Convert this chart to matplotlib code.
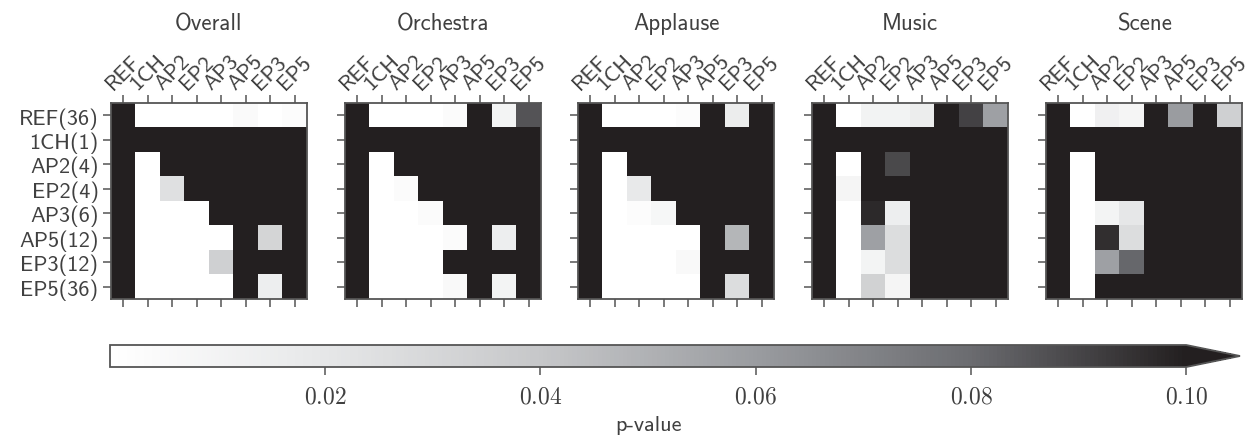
import numpy as np
import matplotlib
matplotlib.use("Agg")
import matplotlib.pyplot as plt
from matplotlib.colors import LinearSegmentedColormap

plt.rcParams['font.family'] = ['cmss10', 'DejaVu Sans']
plt.rcParams['mathtext.fontset'] = 'cm'
plt.rcParams['axes.unicode_minus'] = False

txt_col = '#404040'
edge_col = '#555555'

conds = ['REF', '1CH', 'AP2', 'EP2', 'AP3', 'AP5', 'EP3', 'EP5']
counts = [36, 1, 4, 4, 6, 12, 12, 36]
titles = ['Overall', 'Orchestra', 'Applause', 'Music', 'Scene']

# p-values (1.0 = not significant)
overall = [
    [1, 0, 0, 0, 0, 0.004, 0, 0.002],
    [1, 1, 1, 1, 1, 1, 1, 1],
    [1, 0, 1, 1, 1, 1, 1, 1],
    [1, 0, 0.024, 1, 1, 1, 1, 1],
    [1, 0, 0, 0, 1, 1, 1, 1],
    [1, 0, 0, 0, 0, 1, 0.031, 1],
    [1, 0, 0, 0, 0.034, 1, 1, 1],
    [1, 0, 0, 0, 0, 1, 0.014, 1],
]
orchestra = [
    [1, 0, 0, 0, 0.003, 1, 0.009, 0.086],
    [1, 1, 1, 1, 1, 1, 1, 1],
    [1, 0, 1, 1, 1, 1, 1, 1],
    [1, 0, 0.003, 1, 1, 1, 1, 1],
    [1, 0, 0, 0.003, 1, 1, 1, 1],
    [1, 0, 0, 0, 0.003, 1, 0.014, 1],
    [1, 0, 0, 0, 1, 1, 1, 1],
    [1, 0, 0, 0, 0.005, 1, 0.009, 1],
]
applause = [
    [1, 0, 0, 0, 0.002, 1, 0.015, 1],
    [1, 1, 1, 1, 1, 1, 1, 1],
    [1, 0, 1, 1, 1, 1, 1, 1],
    [1, 0, 0.018, 1, 1, 1, 1, 1],
    [1, 0, 0.002, 0.007, 1, 1, 1, 1],
    [1, 0, 0, 0, 0, 1, 0.048, 1],
    [1, 0, 0, 0, 0.005, 1, 1, 1],
    [1, 0, 0, 0, 0, 1, 0.026, 1],
]
music = [
    [1, 0, 0.010, 0.010, 0.015, 1, 0.091, 0.058],
    [1, 1, 1, 1, 1, 1, 1, 1],
    [1, 0, 1, 0.089, 1, 1, 1, 1],
    [1, 0.008, 1, 1, 1, 1, 1, 1],
    [1, 0, 0.097, 0.014, 1, 1, 1, 1],
    [1, 0, 0.058, 0.026, 1, 1, 1, 1],
    [1, 0, 0.009, 0.026, 1, 1, 1, 1],
    [1, 0, 0.033, 0.008, 1, 1, 1, 1],
]
scene = [
    [1, 0, 0.012, 0.008, 1, 0.060, 1, 0.034],
    [1, 1, 1, 1, 1, 1, 1, 1],
    [1, 0, 1, 1, 1, 1, 1, 1],
    [1, 0, 1, 1, 1, 1, 1, 1],
    [1, 0, 0.009, 0.020, 1, 1, 1, 1],
    [1, 0, 0.096, 0.026, 1, 1, 1, 1],
    [1, 0, 0.058, 0.081, 1, 1, 1, 1],
    [1, 0, 1, 1, 1, 1, 1, 1],
]
panels = [overall, orchestra, applause, music, scene]

cmap = LinearSegmentedColormap.from_list(
    'pgrey', [(0.0, '#ffffff'), (0.2, '#e6e7e8'), (0.4, '#c6c7c9'),
              (0.6, '#9a9ca0'), (0.8, '#6b6c70'), (1.0, '#231f20')])
cmap.set_over('#231f20')

fig = plt.figure(figsize=(12.48, 4.39), dpi=100)

lefts = [111, 345, 578, 812, 1046]
W, H = 1248., 439.
for i, (name, mat) in enumerate(zip(titles, panels)):
    ax = fig.add_axes([lefts[i] / W, 1 - 300 / H, 196 / W, 196 / H])
    im = ax.imshow(np.array(mat), cmap=cmap, vmin=0, vmax=0.1,
                   interpolation='nearest', aspect='equal')
    ax.set_xticks(range(len(conds)))
    ax.set_yticks(range(len(conds)))
    ax.tick_params(axis='x', top=True, bottom=True, labeltop=True,
                   labelbottom=False, length=6, width=1.1, color=edge_col,
                   labelcolor=txt_col, labelsize=16, pad=1)
    ax.tick_params(axis='y', left=True, right=False, length=6, width=1.1,
                   color=edge_col, labelcolor=txt_col, labelsize=16, pad=3)
    ax.set_xticklabels(conds, rotation=45)
    if i == 0:
        ax.set_yticklabels(['%s(%d)' % (c, n) for c, n in zip(conds, counts)])
    else:
        ax.set_yticklabels([])
    for sp in ax.spines.values():
        sp.set_color(edge_col)
        sp.set_linewidth(1.3)
    ax.set_title(name, color=txt_col, fontsize=16.5, y=1.0, pad=53)

cax = fig.add_axes([110 / W, 1 - 368 / H, 1130 / W, 22 / H])
cb = fig.colorbar(im, cax=cax, orientation='horizontal', extend='max')
cb.set_ticks([0.02, 0.04, 0.06, 0.08, 0.10])
cb.set_ticklabels([r'$0.02$', r'$0.04$', r'$0.06$', r'$0.08$', r'$0.10$'])
cb.outline.set_edgecolor(edge_col)
cb.outline.set_linewidth(1.3)
cax.tick_params(length=6, width=1.1, color=edge_col, labelcolor=txt_col,
                labelsize=17, pad=7)
cb.set_label('p-value', color=txt_col, fontsize=16, labelpad=6)

fig.savefig('out.png', dpi=100)
